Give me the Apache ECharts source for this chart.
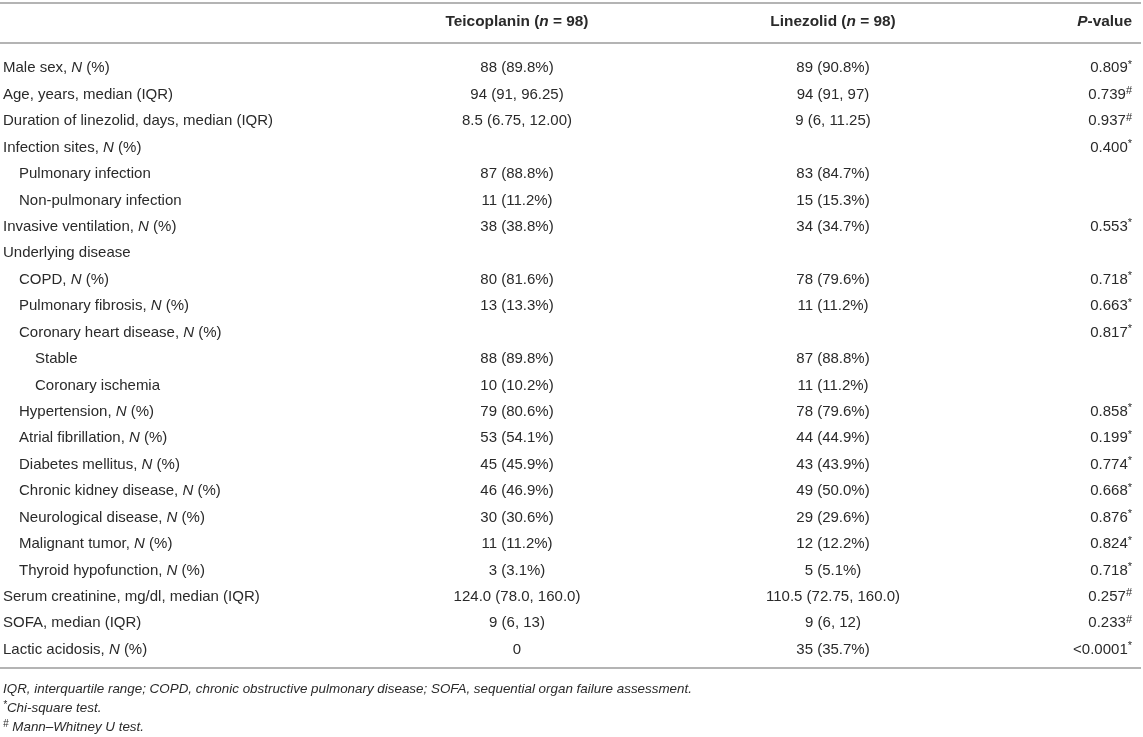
<!DOCTYPE html>
<html lang="en">
<head>
  <meta charset="UTF-8">
  <title>Teicoplanin vs Linezolid</title>
  <script src="https://cdn.jsdelivr.net/npm/echarts@6/dist/echarts.min.js"></script>
  <style>
    html, body { margin: 0; padding: 0; background: #fff; }
    #main { width: 1143px; height: 737px; }
  </style>
</head>
<body>

<div id="main"></div>

<script>
  // table data
  var headers = ['', 'Teicoplanin (n = 98)', 'Linezolid (n = 98)', 'P-value'];
  var rowLabels = [
    'Male sex, N (%)',
    'Age, years, median (IQR)',
    'Duration of linezolid, days, median (IQR)',
    'Infection sites, N (%)',
    'Pulmonary infection',
    'Non-pulmonary infection',
    'Invasive ventilation, N (%)',
    'Underlying disease',
    'COPD, N (%)',
    'Pulmonary fibrosis, N (%)',
    'Coronary heart disease, N (%)',
    'Stable',
    'Coronary ischemia',
    'Hypertension, N (%)',
    'Atrial fibrillation, N (%)',
    'Diabetes mellitus, N (%)',
    'Chronic kidney disease, N (%)',
    'Neurological disease, N (%)',
    'Malignant tumor, N (%)',
    'Thyroid hypofunction, N (%)',
    'Serum creatinine, mg/dl, median (IQR)',
    'SOFA, median (IQR)',
    'Lactic acidosis, N (%)'
  ];
  var rowIndent = [0, 0, 0, 0, 1, 1, 0, 0, 1, 1, 1, 2, 2, 1, 1, 1, 1, 1, 1, 1, 0, 0, 0];
  var teicoplanin = [
    '88 (89.8%)', '94 (91, 96.25)', '8.5 (6.75, 12.00)', '', '87 (88.8%)', '11 (11.2%)',
    '38 (38.8%)', '', '80 (81.6%)', '13 (13.3%)', '', '88 (89.8%)', '10 (10.2%)',
    '79 (80.6%)', '53 (54.1%)', '45 (45.9%)', '46 (46.9%)', '30 (30.6%)', '11 (11.2%)',
    '3 (3.1%)', '124.0 (78.0, 160.0)', '9 (6, 13)', '0'
  ];
  var linezolid = [
    '89 (90.8%)', '94 (91, 97)', '9 (6, 11.25)', '', '83 (84.7%)', '15 (15.3%)',
    '34 (34.7%)', '', '78 (79.6%)', '11 (11.2%)', '', '87 (88.8%)', '11 (11.2%)',
    '78 (79.6%)', '44 (44.9%)', '43 (43.9%)', '49 (50.0%)', '29 (29.6%)', '12 (12.2%)',
    '5 (5.1%)', '110.5 (72.75, 160.0)', '9 (6, 12)', '35 (35.7%)'
  ];
  var pValues = [
    '0.809', '0.739', '0.937', '0.400', '', '', '0.553', '', '0.718', '0.663', '0.817', '', '',
    '0.858', '0.199', '0.774', '0.668', '0.876', '0.824', '0.718', '0.257', '0.233', '<0.0001'
  ];
  var pTests = [
    '*', '#', '#', '*', '', '', '*', '', '*', '*', '*', '', '',
    '*', '*', '*', '*', '*', '*', '*', '#', '#', '*'
  ];
  var footnotes = [
    'IQR, interquartile range; COPD, chronic obstructive pulmonary disease; SOFA, sequential organ failure assessment.',
    '{sup|*}Chi-square test.',
    '{sup|#} Mann–Whitney U test.'
  ];

  var FONT = '"Liberation Sans", Arial, Helvetica, sans-serif';
  var COLOR = '#2a2a2a';
  var RULE = '#b4b4b4';
  var FS = 15;
  var colX = [3, 517, 833, 1132];
  var colAlign = ['left', 'center', 'center', 'right'];

  var richBase = {
    i: { fontStyle: 'italic', fontSize: FS, fontFamily: FONT, fill: COLOR },
    sup: { fontSize: 11, fontFamily: FONT, fill: COLOR, verticalAlign: 'top', lineHeight: 18 }
  };
  var richHead = {
    b: { fontWeight: 'bold', fontSize: 15.4, fontFamily: FONT, fill: COLOR },
    bi: { fontWeight: 'bold', fontStyle: 'italic', fontSize: 15.4, fontFamily: FONT, fill: COLOR }
  };

  function labelRich(s) {
    return s.replace(/N \(%\)/, '{i|N} (%)');
  }

  function headRich(s) {
    return s.replace(/^(.*)\(n( = .*)$/, '{b|$1(}{bi|n}{b|$2}').replace(/^P(-value)$/, '{bi|P}{b|$1}');
  }

  function cellText(x, y, text, align) {
    return {
      type: 'text',
      x: x,
      y: y,
      style: {
        text: text,
        fill: COLOR,
        fontSize: FS,
        fontFamily: FONT,
        lineHeight: 18,
        align: align,
        verticalAlign: 'middle',
        rich: richBase
      }
    };
  }

  var rowIdx = rowLabels.map(function (d, i) { return [0, i]; });

  var rules = [3, 43, 668].map(function (y) {
    return { type: 'line', shape: { x1: 0, y1: y, x2: 1141, y2: y }, style: { stroke: RULE, lineWidth: 2 } };
  });
  var headTexts = headers.map(function (h, c) {
    return {
      type: 'text', x: colX[c], y: 21.5,
      style: { text: headRich(h), align: colAlign[c], verticalAlign: 'middle', rich: richHead }
    };
  });
  var footTexts = footnotes.map(function (f, k) {
    return {
      type: 'text', x: 3, y: 689 + k * 19,
      style: {
        text: '{t|' + f.replace(/\{sup\|(.)\}/, '}{sup|$1}{t|') + '}',
        align: 'left', verticalAlign: 'middle',
        rich: {
          t: { fontStyle: 'italic', fontSize: 13.4, fontFamily: FONT, fill: COLOR, lineHeight: 16 },
          sup: { fontStyle: 'italic', fontSize: 10, fontFamily: FONT, fill: COLOR, verticalAlign: 'top', lineHeight: 16 }
        }
      }
    };
  });

  var chart = echarts.init(document.getElementById('main'), null, { renderer: 'canvas' });
  chart.setOption({
    animation: false,
    backgroundColor: '#fff',
    grid: { left: 0, right: 0, top: 55, bottom: 74 },
    xAxis: { type: 'value', min: 0, max: 1143, show: false },
    yAxis: { type: 'category', data: rowLabels, inverse: true, show: false },
    graphic: rules.concat(headTexts, footTexts),
    series: [{
      type: 'custom',
      data: rowIdx,
      renderItem: function (params, api) {
        var i = api.value(1);
        var y = api.coord([0, i])[1];
        var kids = [];
        var lx = api.coord([colX[0] + rowIndent[i] * 16, i])[0];
        kids.push(cellText(lx, y, labelRich(rowLabels[i]), colAlign[0]));
        if (teicoplanin[i]) kids.push(cellText(api.coord([colX[1], i])[0], y, teicoplanin[i], colAlign[1]));
        if (linezolid[i]) kids.push(cellText(api.coord([colX[2], i])[0], y, linezolid[i], colAlign[2]));
        if (pValues[i]) {
          var t = pValues[i] + (pTests[i] ? '{sup|' + pTests[i] + '}' : '');
          kids.push(cellText(api.coord([colX[3], i])[0], y, t, colAlign[3]));
        }
        return { type: 'group', children: kids };
      }
    }]
  });
</script>
</body>
</html>
